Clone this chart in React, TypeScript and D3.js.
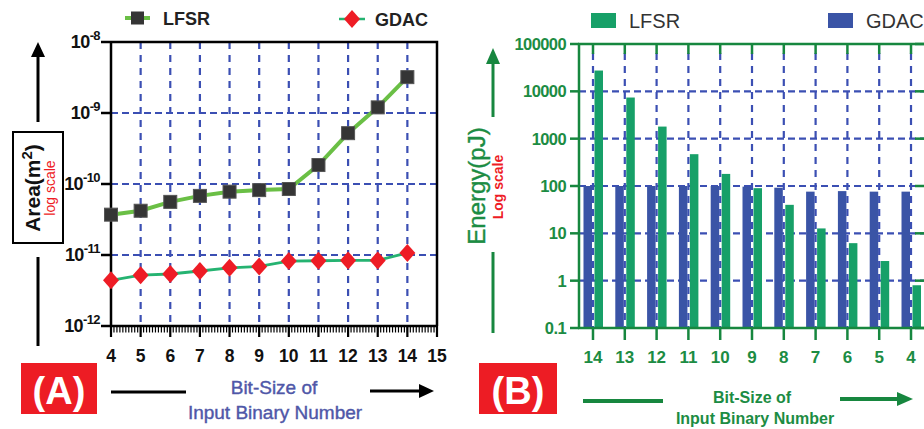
import React from "react";
import * as d3 from "d3";

// panel A: area vs bit size
const bitSizesA = [4, 5, 6, 7, 8, 9, 10, 11, 12, 13, 14];
const lfsrArea = [3.7e-11, 4.2e-11, 5.6e-11, 6.8e-11, 7.8e-11, 8.2e-11, 8.5e-11, 1.85e-10, 5.2e-10, 1.2e-9, 3.2e-9];
const gdacArea = [4.4e-12, 5.2e-12, 5.4e-12, 5.95e-12, 6.6e-12, 6.9e-12, 8.2e-12, 8.3e-12, 8.4e-12, 8.4e-12, 1.07e-11];
const xTicksA = [4, 5, 6, 7, 8, 9, 10, 11, 12, 13, 14, 15];
const yTicksA = [1e-12, 1e-11, 1e-10, 1e-9, 1e-8];
const yExpA = ["-12", "-11", "-10", "-9", "-8"];

// panel B: energy vs bit size
const bitSizesB = ["14", "13", "12", "11", "10", "9", "8", "7", "6", "5", "4"];
const lfsrEnergy = [27500, 7400, 1800, 470, 180, 90, 40, 12.7, 6.2, 2.6, 0.8];
const gdacEnergy = [100, 100, 100, 100, 100, 97, 92, 76, 78, 76, 76];
const yTicksB = [0.1, 1, 10, 100, 1000, 10000, 100000];
const yLabelsB = ["0.1", "1", "10", "100", "1000", "10000", "100000"];

const FONT = "'Liberation Sans', Arial, sans-serif";
const GRID = "#3b4fb3";
const DGREEN = "#17873f";

export default function App() {
  const xA = d3.scaleLinear().domain([4, 15]).range([111, 437]);
  const yA = d3.scaleLog().domain([1e-12, 1e-8]).range([326, 42]);
  const xB = d3.scalePoint().domain(bitSizesB).range([579, 925]).padding(0.44);
  const yB = d3.scaleLog().domain([0.1, 100000]).range([328, 44]);

  const lineA = d3
    .line<number>()
    .x((d, i) => xA(bitSizesA[i]))
    .y((d) => yA(d));

  const minorA = d3.range(40, 151).map((d) => d / 10);

  const sq = 13;
  const dia = (cx: number, cy: number) =>
    `M${cx},${cy - 9}L${cx + 8},${cy}L${cx},${cy + 9}L${cx - 8},${cy}Z`;

  return (
    <svg
      width={924}
      height={429}
      style={{ position: "absolute", left: 0, top: 0, background: "#fff" }}
      fontFamily={FONT}
    >
      {/* ===== Panel A ===== */}
      <g>
        {/* grid */}
        {bitSizesA.slice(1).map((b) => (
          <line key={"gv" + b} x1={xA(b)} x2={xA(b)} y1={42} y2={326}
            stroke={GRID} strokeWidth={2.2} strokeDasharray="7,6" />
        ))}
        {yTicksA.slice(1, 4).map((t) => (
          <line key={"gh" + t} x1={111} x2={437} y1={yA(t)} y2={yA(t)}
            stroke={GRID} strokeWidth={2.2} strokeDasharray="7,4" />
        ))}
        {/* frame */}
        <path d={`M111,42H437V326`} fill="none" stroke="#000" strokeWidth={2.5} />
        <line x1={111} x2={111} y1={41} y2={327} stroke="#000" strokeWidth={2.5} />
        <line x1={110} x2={438} y1={326} y2={326} stroke="#000" strokeWidth={2.5} />
        {yTicksA.map((t, i) => (
          <g key={"yt" + t}>
            <line x1={101} x2={111} y1={yA(t)} y2={yA(t)} stroke="#000" strokeWidth={2.5} />
            <text x={100} y={yA(t) + 6} textAnchor="end" fontSize={18} fontWeight="bold" fill="#111"
              letterSpacing={-0.6}>
              10<tspan dy={-8} fontSize={13}>{yExpA[i]}</tspan>
            </text>
          </g>
        ))}
        {minorA.map((m) => (
          <line key={"mn" + m} x1={xA(m)} x2={xA(m)} y1={326} y2={332.5} stroke="#000" strokeWidth={1.2} />
        ))}
        {xTicksA.map((t) => (
          <g key={"xt" + t}>
            <line x1={xA(t)} x2={xA(t)} y1={326} y2={337} stroke="#000" strokeWidth={2.2} />
            <text x={xA(t)} y={362} textAnchor="middle" fontSize={17.5} fontWeight="bold" fill="#111">{t}</text>
          </g>
        ))}
        {/* series */}
        <path d={lineA(gdacArea) || ""} fill="none" stroke="#25b371" strokeWidth={2.8} />
        <path d={lineA(lfsrArea) || ""} fill="none" stroke="#6abf45" strokeWidth={4} />
        {lfsrArea.map((v, i) => (
          <rect key={"sq" + i} x={xA(bitSizesA[i]) - sq / 2} y={yA(v) - sq / 2} width={sq} height={sq}
            fill="#353535" stroke="#555" strokeWidth={1} />
        ))}
        {gdacArea.map((v, i) => (
          <path key={"dm" + i} d={dia(xA(bitSizesA[i]), yA(v))} fill="#ee1c25" />
        ))}
        {/* legend */}
        <line x1={125} x2={150} y1={18} y2={18} stroke="#6abf45" strokeWidth={4} />
        <rect x={137.5 - sq / 2} y={18 - sq / 2} width={sq} height={sq} fill="#353535" />
        <text x={163} y={25} fontSize={18} fontWeight="bold" fill="#222">LFSR</text>
        <line x1={339} x2={365} y1={19} y2={19} stroke="#25b371" strokeWidth={2.5} />
        <path d={dia(352, 19)} fill="#ee1c25" />
        <text x={375} y={26} fontSize={18} fontWeight="bold" fill="#222">GDAC</text>
        {/* y label */}
        <line x1={38} x2={38} y1={122} y2={55} stroke="#000" strokeWidth={3} />
        <path d="M31,57L38,42L45,57Z" fill="#000" />
        <rect x={13} y={132} width={50} height={111} fill="#fff" stroke="#000" strokeWidth={2} />
        <text transform="translate(40,188) rotate(-90)" textAnchor="middle" fontSize={21} fontWeight="bold" fill="#111">
          Area(m<tspan dy={-8} fontSize={15}>2</tspan><tspan dy={8}>)</tspan>
        </text>
        <text transform="translate(55,188) rotate(-90)" textAnchor="middle" fontSize={14} fill="#ee1c25">
          log scale
        </text>
        <line x1={38} x2={38} y1={257} y2={346} stroke="#000" strokeWidth={3} />
        {/* bottom */}
        <rect x={21} y={363} width={76} height={51} fill="#ed1c24" />
        <text x={59} y={404} textAnchor="middle" fontSize={38} fontWeight="bold" fill="#fff">(A)</text>
        <line x1={111} x2={186} y1={392} y2={392} stroke="#000" strokeWidth={3} />
        <text x={274} y={394} textAnchor="middle" fontSize={19} fill="#4f57a8" stroke="#4f57a8" strokeWidth={0.4}>Bit-Size of</text>
        <text x={275} y={419} textAnchor="middle" fontSize={19} fill="#4f57a8" stroke="#4f57a8" strokeWidth={0.4}>Input Binary Number</text>
        <line x1={370} x2={422} y1={391} y2={391} stroke="#000" strokeWidth={3} />
        <path d="M419,384L434,391L419,398Z" fill="#000" />
      </g>

      {/* ===== Panel B ===== */}
      <g>
        {/* grid */}
        {bitSizesB.map((b) => (
          <line key={"bv" + b} x1={xB(b)!} x2={xB(b)!} y1={53} y2={328}
            stroke={GRID} strokeWidth={2.2} strokeDasharray="7,6" />
        ))}
        {yTicksB.slice(1, 6).map((t) => (
          <line key={"bh" + t} x1={579} x2={924} y1={yB(t)} y2={yB(t)}
            stroke={GRID} strokeWidth={2.2} strokeDasharray="7,4" />
        ))}
        {/* bars */}
        {gdacEnergy.map((v, i) => {
          const c = xB(bitSizesB[i])!;
          return <rect key={"gb" + i} x={c - 9.5} y={yB(v)} width={8.5} height={yB(0.1) - yB(v)} fill="#3a54a6" />;
        })}
        {lfsrEnergy.map((v, i) => {
          const c = xB(bitSizesB[i])!;
          return <rect key={"lb" + i} x={c + 1.5} y={yB(v)} width={8.5} height={yB(0.1) - yB(v)} fill="#17a068" />;
        })}
        {/* axes */}
        <line x1={579} x2={579} y1={43} y2={329} stroke={DGREEN} strokeWidth={2.5} />
        <line x1={578} x2={925} y1={44} y2={44} stroke={DGREEN} strokeWidth={2.5} />
        <line x1={578} x2={925} y1={328} y2={328} stroke={DGREEN} strokeWidth={2.5} />
        {yTicksB.map((t, i) => (
          <g key={"byt" + t}>
            <line x1={570} x2={579} y1={yB(t)} y2={yB(t)} stroke={DGREEN} strokeWidth={2.5} />
            <line x1={915} x2={925} y1={yB(t)} y2={yB(t)} stroke={DGREEN} strokeWidth={2.5} />
            <text x={566} y={yB(t) + 6} textAnchor="end" fontSize={16.5} fontWeight="bold" fill="#1c8c43"
              letterSpacing={-0.6}>{yLabelsB[i]}</text>
          </g>
        ))}
        {bitSizesB.map((b) => (
          <g key={"bxt" + b}>
            <line x1={xB(b)!} x2={xB(b)!} y1={44} y2={54} stroke={DGREEN} strokeWidth={2.5} />
            <line x1={xB(b)!} x2={xB(b)!} y1={328} y2={340} stroke={DGREEN} strokeWidth={2.5} />
            <text x={xB(b)!} y={363} textAnchor="middle" fontSize={17} fontWeight="bold" fill="#1c8c43">{b}</text>
          </g>
        ))}
        {/* legend */}
        <rect x={591} y={13} width={25} height={15} fill="#17a068" />
        <text x={629} y={28} fontSize={20} fill="#333">LFSR</text>
        <rect x={828} y={13} width={25} height={15} fill="#3a54a6" />
        <text x={866} y={28} fontSize={20} fill="#333">GDAC</text>
        {/* y label */}
        <line x1={493} x2={493} y1={117} y2={62} stroke={DGREEN} strokeWidth={3} />
        <path d="M486,64L493,48L500,64Z" fill={DGREEN} />
        <text transform="translate(485,186) rotate(-90)" textAnchor="middle" fontSize={24} fill="#1c8c43"
          stroke="#1c8c43" strokeWidth={0.4}>
          Energy(pJ)
        </text>
        <text transform="translate(503,187) rotate(-90)" textAnchor="middle" fontSize={14} fontWeight="bold" fill="#ee1c25">
          Log scale
        </text>
        <line x1={493} x2={493} y1={252} y2={333} stroke={DGREEN} strokeWidth={3} />
        {/* bottom */}
        <rect x={479} y={363} width={78} height={51} fill="#ed1c24" />
        <text x={518} y={404} textAnchor="middle" fontSize={38} fontWeight="bold" fill="#fff">(B)</text>
        <line x1={583} x2={663} y1={401} y2={401} stroke={DGREEN} strokeWidth={4} />
        <text x={752} y={403} textAnchor="middle" fontSize={16} fontWeight="bold" fill="#1c8c43">Bit-Size of</text>
        <text x={755} y={424} textAnchor="middle" fontSize={16} fontWeight="bold" fill="#1c8c43">Input Binary Number</text>
        <line x1={840} x2={900} y1={399} y2={399} stroke={DGREEN} strokeWidth={4} />
        <path d="M897,392L913,399L897,406Z" fill={DGREEN} />
      </g>
    </svg>
  );
}
